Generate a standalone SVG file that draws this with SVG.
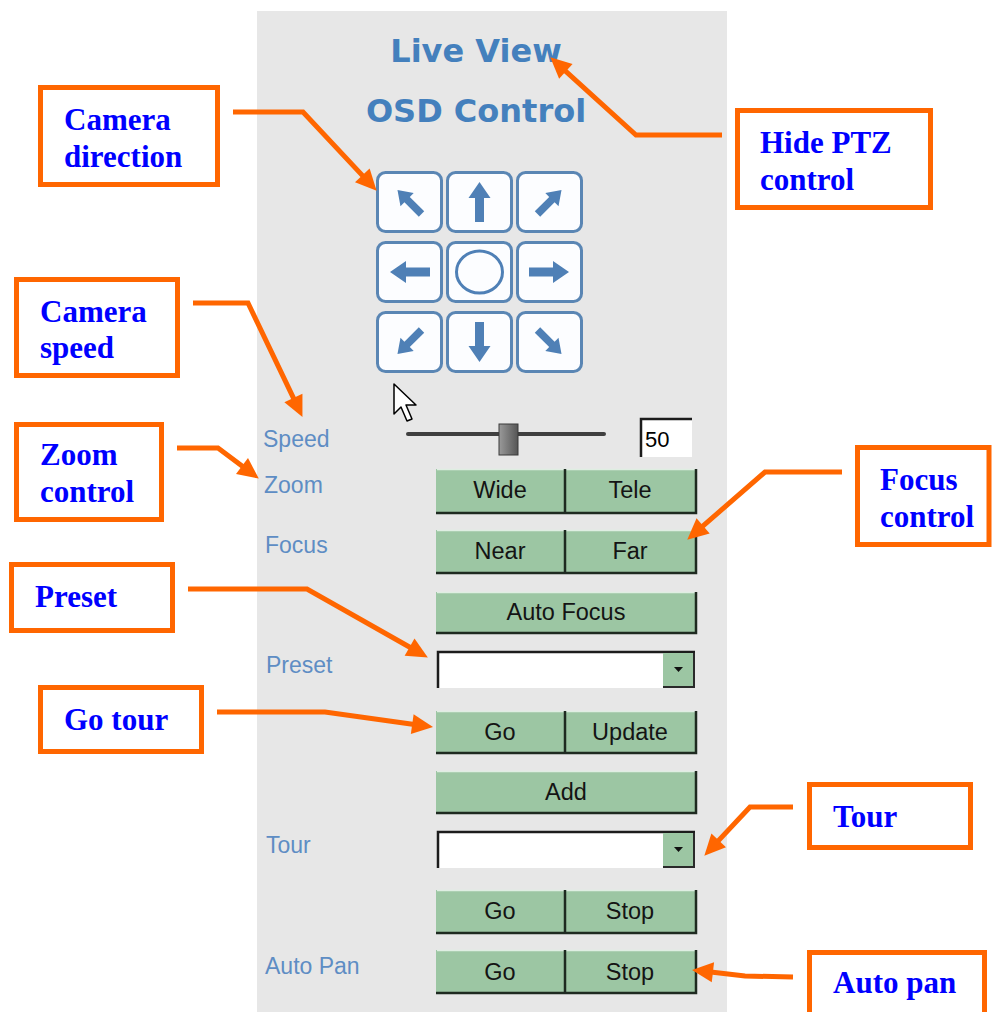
<svg xmlns="http://www.w3.org/2000/svg" xmlns:xlink="http://www.w3.org/1999/xlink" width="992" height="1012" viewBox="0 0 992 1012">
<style>
.title{font-family:"DejaVu Sans","Liberation Sans",sans-serif;font-weight:bold;font-size:32px;fill:#4480bd;text-anchor:middle}
.lbl{font-family:"Liberation Sans",Arial,sans-serif;font-size:23px;fill:#5e8dc4}
.btn{fill:#9cc6a3}
.edge{fill:none;stroke:#1e2a20;stroke-width:2.5}
.ledge{fill:none;stroke:#dfeee2;stroke-width:1.5}
.bt{font-family:"Liberation Sans",Arial,sans-serif;font-size:23.5px;fill:#141414;text-anchor:middle}
.dir{fill:#fcfdff;stroke:#5a86b4;stroke-width:3}
.ico{fill:#4f80b6}
.box{fill:#fff;stroke:#ff6600;stroke-width:5}
.ct{font-family:"Liberation Serif","Times New Roman",serif;font-weight:bold;font-size:31px;fill:#0000ff}
.con{fill:none;stroke:#ff6600;stroke-width:5;stroke-linejoin:miter;marker-end:url(#ah)}
.dd{fill:#ffffff}
.ddb{fill:none;stroke:#1c1c1c;stroke-width:2.5}
</style>
<defs>
<marker id="ah" markerUnits="userSpaceOnUse" markerWidth="24" markerHeight="22" refX="13" refY="10" orient="auto" overflow="visible">
<path d="M0,0 L21,10 L0,20 z" fill="#ff6600"/>
</marker>
<path id="arr" d="M0,-20 L11,-4 L4.5,-4 L4.5,20 L-4.5,20 L-4.5,-4 L-11,-4 z"/>
<linearGradient id="thumb" x1="0" y1="0" x2="1" y2="0">
<stop offset="0" stop-color="#9a9a9a"/>
<stop offset="1" stop-color="#555"/>
</linearGradient>
</defs>

<rect x="0" y="0" width="992" height="1012" fill="#fff"/>
<g id="panel">
<rect x="257" y="11" width="470" height="1001" fill="#e7e7e7"/>
</g>

<g id="titles">
<text class="title" x="476" y="62">Live View</text>
<text class="title" x="476" y="122">OSD Control</text>
</g>

<g id="direction-pad">
<rect class="dir" x="377.5" y="172.5" width="64" height="59" rx="8"/>
<rect class="dir" x="447.5" y="172.5" width="64" height="59" rx="8"/>
<rect class="dir" x="517.5" y="172.5" width="64" height="59" rx="8"/>
<rect class="dir" x="377.5" y="242.5" width="64" height="59" rx="8"/>
<rect class="dir" x="447.5" y="242.5" width="64" height="59" rx="8"/>
<rect class="dir" x="517.5" y="242.5" width="64" height="59" rx="8"/>
<rect class="dir" x="377.5" y="312.5" width="64" height="59" rx="8"/>
<rect class="dir" x="447.5" y="312.5" width="64" height="59" rx="8"/>
<rect class="dir" x="517.5" y="312.5" width="64" height="59" rx="8"/>
<use href="#arr" class="ico" transform="translate(409.5,202) rotate(-45) scale(0.85)"/>
<use href="#arr" class="ico" transform="translate(479.5,202)"/>
<use href="#arr" class="ico" transform="translate(549.5,202) rotate(45) scale(0.85)"/>
<use href="#arr" class="ico" transform="translate(410,272) rotate(-90)"/>
<ellipse cx="479.5" cy="272" rx="23" ry="21" fill="none" stroke="#4f80b6" stroke-width="3"/>
<use href="#arr" class="ico" transform="translate(549,272) rotate(90)"/>
<use href="#arr" class="ico" transform="translate(409.5,342) rotate(-135) scale(0.85)"/>
<use href="#arr" class="ico" transform="translate(479.5,342) rotate(180)"/>
<use href="#arr" class="ico" transform="translate(549.5,342) rotate(135) scale(0.85)"/>
</g>

<g id="cursor">
<path d="M394,384 L394,414 L401,407 L407,421 L412,419 L406,405 L416,405 z" fill="#fff" stroke="#000" stroke-width="1.5" stroke-linejoin="round"/>
</g>

<g id="labels">
<text class="lbl" x="263" y="447">Speed</text>
<text class="lbl" x="264" y="493">Zoom</text>
<text class="lbl" x="265" y="553">Focus</text>
<text class="lbl" x="266" y="673">Preset</text>
<text class="lbl" x="266" y="853">Tour</text>
<text class="lbl" x="265" y="974">Auto Pan</text>
</g>

<g id="speed-slider">
<line x1="408" y1="434" x2="604" y2="434" stroke="#3f3f3f" stroke-width="4" stroke-linecap="round"/>
<rect x="499" y="424" width="19" height="31" fill="url(#thumb)" stroke="#3a3a3a" stroke-width="1"/>
<rect x="640" y="418" width="52" height="39" fill="#fff"/>
<path d="M641,457 V419 H692" fill="none" stroke="#1c1c1c" stroke-width="2.5"/>
<text x="645" y="447" font-family="Liberation Sans, Arial, sans-serif" font-size="22" fill="#000">50</text>
</g>

<g id="zoom-buttons">
<rect class="btn" x="436" y="469" width="260" height="44"/>
<path class="ledge" d="M437,469.5 H695"/>
<path class="edge" d="M436,513 H696 V469 M565,469 V513"/>
<text class="bt" x="500" y="498">Wide</text>
<text class="bt" x="630" y="498">Tele</text>
</g>

<g id="focus-buttons">
<rect class="btn" x="436" y="530" width="260" height="43"/>
<path class="ledge" d="M437,530.5 H695"/>
<path class="edge" d="M436,573 H696 V530 M565,530 V573"/>
<text class="bt" x="500" y="559">Near</text>
<text class="bt" x="630" y="559">Far</text>
</g>

<g id="autofocus-button">
<rect class="btn" x="436" y="592" width="260" height="41"/>
<path class="ledge" d="M437,592.5 H695"/>
<path class="edge" d="M436,633 H696 V592"/>
<text class="bt" x="566" y="620">Auto Focus</text>
</g>

<g id="preset-select">
<rect class="dd" x="437" y="651" width="258" height="37"/>
<path class="ddb" d="M438,688 V652 H695"/>
<rect class="btn" x="663" y="653" width="31" height="34"/>
<path d="M663,687 H694 V653" fill="none" stroke="#2a2a2a" stroke-width="2"/>
<path d="M674,667 L683,667 L678.5,672 z" fill="#111"/>
</g>

<g id="preset-buttons">
<rect class="btn" x="436" y="711" width="260" height="42"/>
<path class="ledge" d="M437,711.5 H695"/>
<path class="edge" d="M436,753 H696 V711 M565,711 V753"/>
<text class="bt" x="500" y="740">Go</text>
<text class="bt" x="630" y="740">Update</text>
</g>

<g id="add-button">
<rect class="btn" x="436" y="771" width="260" height="42"/>
<path class="ledge" d="M437,771.5 H695"/>
<path class="edge" d="M436,813 H696 V771"/>
<text class="bt" x="566" y="800">Add</text>
</g>

<g id="tour-select">
<rect class="dd" x="437" y="831" width="258" height="37"/>
<path class="ddb" d="M438,868 V832 H695"/>
<rect class="btn" x="663" y="833" width="31" height="34"/>
<path d="M663,867 H694 V833" fill="none" stroke="#2a2a2a" stroke-width="2"/>
<path d="M674,847 L683,847 L678.5,852 z" fill="#111"/>
</g>

<g id="tour-buttons">
<rect class="btn" x="436" y="890" width="260" height="43"/>
<path class="ledge" d="M437,890.5 H695"/>
<path class="edge" d="M436,933 H696 V890 M565,890 V933"/>
<text class="bt" x="500" y="919">Go</text>
<text class="bt" x="630" y="919">Stop</text>
</g>

<g id="autopan-buttons">
<rect class="btn" x="436" y="950" width="260" height="43"/>
<path class="ledge" d="M437,950.5 H695"/>
<path class="edge" d="M436,993 H696 V950 M565,950 V993"/>
<text class="bt" x="500" y="980">Go</text>
<text class="bt" x="630" y="980">Stop</text>
</g>

<g id="callout-camera-direction">
<rect class="box" x="40.5" y="87.5" width="177" height="97"/>
<text class="ct" x="64" y="130">Camera</text>
<text class="ct" x="64" y="167">direction</text>
</g>
<g id="callout-hide-ptz">
<rect class="box" x="737.5" y="110.5" width="193" height="97"/>
<text class="ct" x="760" y="153">Hide PTZ</text>
<text class="ct" x="760" y="190">control</text>
</g>
<g id="callout-camera-speed">
<rect class="box" x="16.5" y="279.5" width="161" height="96"/>
<text class="ct" x="40" y="322">Camera</text>
<text class="ct" x="40" y="358">speed</text>
</g>
<g id="callout-zoom-control">
<rect class="box" x="16.5" y="424.5" width="145" height="95"/>
<text class="ct" x="40" y="465">Zoom</text>
<text class="ct" x="40" y="502">control</text>
</g>
<g id="callout-preset">
<rect class="box" x="11.5" y="564.5" width="161" height="66"/>
<text class="ct" x="35" y="607">Preset</text>
</g>
<g id="callout-go-tour">
<rect class="box" x="40.5" y="687.5" width="161" height="64"/>
<text class="ct" x="64" y="730">Go tour</text>
</g>
<g id="callout-focus-control">
<rect class="box" x="857.5" y="447.5" width="131.5" height="97"/>
<text class="ct" x="880" y="490">Focus</text>
<text class="ct" x="880" y="527">control</text>
</g>
<g id="callout-tour">
<rect class="box" x="809.5" y="784.5" width="161" height="63"/>
<text class="ct" x="833" y="827">Tour</text>
</g>
<g id="callout-auto-pan">
<rect class="box" x="809.5" y="952.5" width="175" height="72"/>
<text class="ct" x="833" y="993">Auto pan</text>
</g>

<g id="connectors">
<path class="con" d="M233,112 L303,112 L371.2,184.9"/>
<path class="con" d="M722,135 L636,135 L556.2,62.7"/>
<path class="con" d="M193,303 L248,303 L299,409.7"/>
<path class="con" d="M177,448 L218,448 L252.4,473.8"/>
<path class="con" d="M188,589 L307,589 L420.9,653.5"/>
<path class="con" d="M217,712 L325,712 L425.1,726"/>
<path class="con" d="M842,472 L765,472 L693.3,534.4"/>
<path class="con" d="M793,807 L750,807 L709.8,849.9"/>
<path class="con" d="M793,977 L745,976 L700,970.8"/>
</g>
</svg>
